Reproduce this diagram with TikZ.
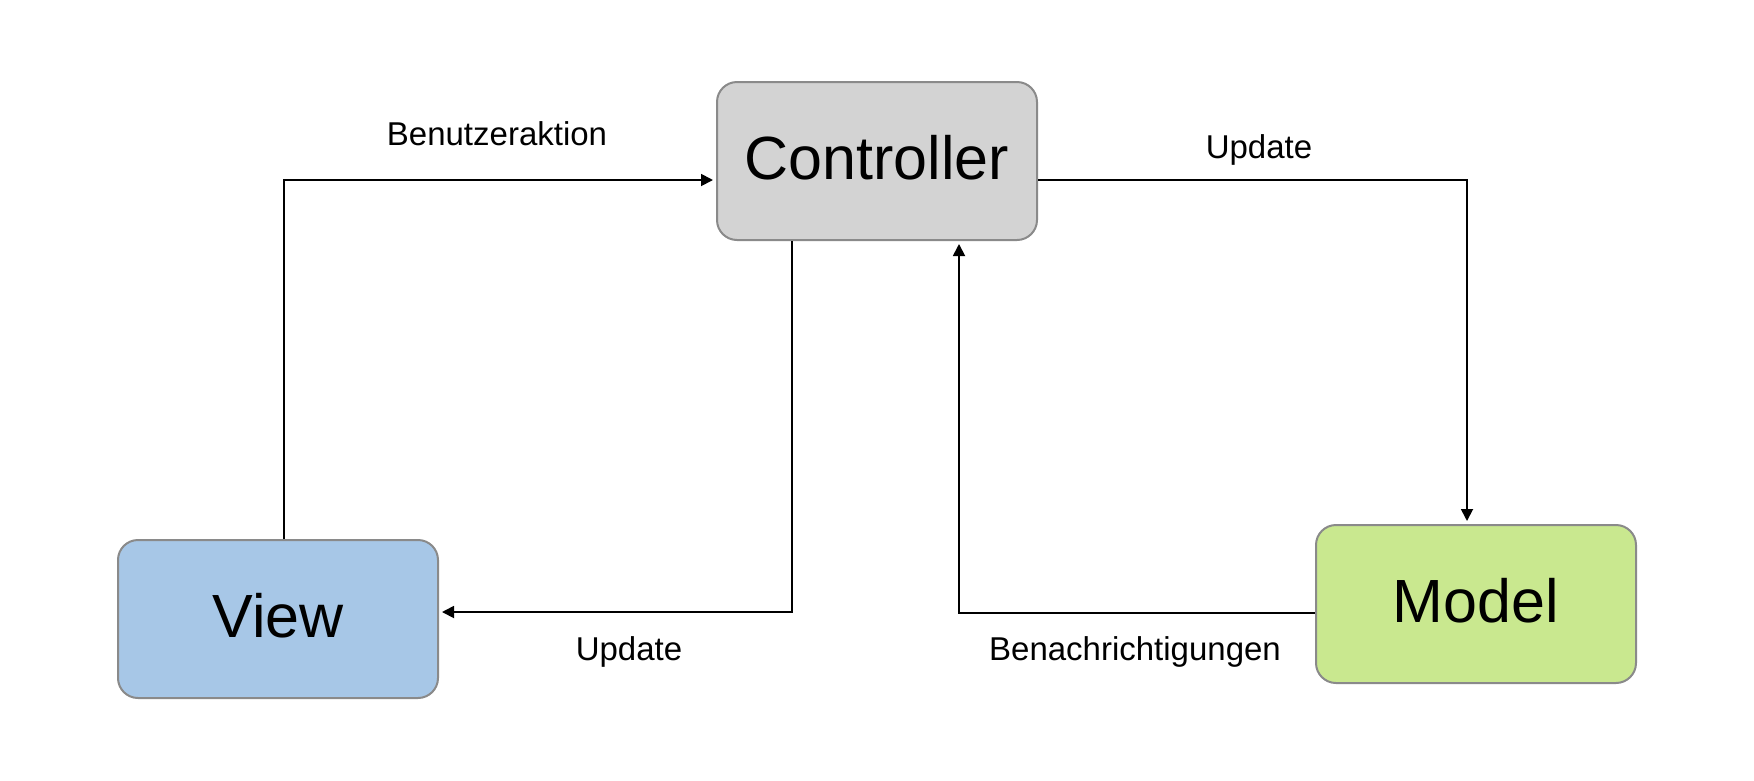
\documentclass[tikz,border=0pt]{standalone}
\usepackage{fontspec}
\setmainfont{Liberation Sans}
\usetikzlibrary{arrows.meta,calc}
\definecolor{ctrlfill}{RGB}{211,211,211}
\definecolor{viewfill}{RGB}{167,199,231}
\definecolor{modelfill}{RGB}{201,232,143}
\definecolor{boxline}{RGB}{138,138,138}
\tikzset{
  box/.style={draw=boxline, line width=2pt, rounded corners=20pt,
    minimum width=320pt, minimum height=158pt, inner sep=0pt,
    font=\fontsize{61}{70}\selectfont, text height=46pt, text depth=10pt},
  arr/.style={line width=1.8pt, -{Triangle[length=12pt,width=12pt]}, shorten >=3pt},
  lbl/.style={font=\fontsize{33}{38}\selectfont, anchor=base, inner sep=0pt}
}
\begin{document}
\begin{tikzpicture}[x=1pt,y=-1pt]
\useasboundingbox (0,0) rectangle (1754,780);
\node[box, fill=ctrlfill] (ctrl) at (877,161) {Controller};
\node[box, fill=viewfill] (view) at (278,619) {View};
\node[box, fill=modelfill] (model) at (1476,604) {Model};
\coordinate (b1) at (284,180);
\coordinate (b2) at (1467,180);
\coordinate (b3) at (792,612);
\coordinate (b4) at (959,613);
\draw[arr] (view.north -| b1) |- (ctrl.west |- b1);
\draw[arr] (ctrl.east |- b2) -| (model.north -| b2);
\draw[arr] (ctrl.south -| b3) |- (view.east |- b3);
\draw[arr] (model.west |- b4) -| (ctrl.south -| b4);
\node[lbl] (l1) at (497,145) {Benutzeraktion};
\node[lbl] (l2) at (1259,158) {Update};
\node[lbl] (l3) at (629,660) {Update};
\node[lbl] (l4) at (1135,660) {Benachrichtigungen};
\end{tikzpicture}
\end{document}
